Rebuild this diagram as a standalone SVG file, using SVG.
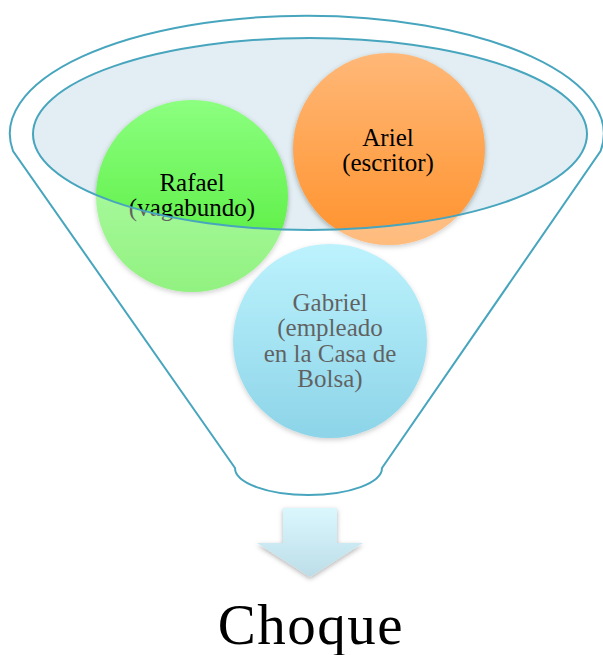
<svg xmlns="http://www.w3.org/2000/svg" width="603" height="655" viewBox="0 0 603 655">
  <defs>
    <linearGradient id="gGreen" x1="0" y1="0" x2="0" y2="1">
      <stop offset="0" stop-color="#8CFF80"/>
      <stop offset="1" stop-color="#4FEA34"/>
    </linearGradient>
    <linearGradient id="gOrange" x1="0" y1="0" x2="0" y2="1">
      <stop offset="0" stop-color="#FFB878"/>
      <stop offset="1" stop-color="#FF922C"/>
    </linearGradient>
    <linearGradient id="gBlue" x1="0" y1="0" x2="0" y2="1">
      <stop offset="0" stop-color="#94EBFC"/>
      <stop offset="1" stop-color="#47BADB"/>
    </linearGradient>
    <linearGradient id="gArrow" x1="0" y1="0" x2="0" y2="1">
      <stop offset="0" stop-color="#DAF7FD"/>
      <stop offset="1" stop-color="#BCDDE8"/>
    </linearGradient>
    <filter id="shadow" x="-20%" y="-20%" width="140%" height="140%">
      <feDropShadow dx="0" dy="2" stdDeviation="2.5" flood-color="#000" flood-opacity="0.3"/>
    </filter>
  </defs>
  <style>
    .rim { fill: none; stroke: #47A5BE; stroke-width: 2; }
    .lbl { font-family: "Liberation Serif", "Times New Roman", serif; font-size: 25px; text-anchor: middle; fill: #000; }
    .big { font-family: "Liberation Serif", "Times New Roman", serif; font-size: 57px; letter-spacing: 1.5px; text-anchor: middle; fill: #000; }
  </style>

  <!-- inner ellipse fill (funnel mouth) -->
  <ellipse id="mouth-fill" cx="310" cy="134" rx="277" ry="96" fill="#E2EEF3"/>

  <g id="rafael">
    <circle cx="192" cy="196" r="96" fill="url(#gGreen)" filter="url(#shadow)"/>
    <text class="lbl" x="192" y="191">Rafael</text>
    <text class="lbl" x="192" y="216">(vagabundo)</text>
  </g>

  <g id="ariel">
    <circle cx="389" cy="149" r="96" fill="url(#gOrange)" filter="url(#shadow)"/>
    <text class="lbl" x="388" y="146">Ariel</text>
    <text class="lbl" x="388" y="171">(escritor)</text>
  </g>

  <g id="gabriel">
    <circle cx="330" cy="341" r="97" fill="url(#gBlue)" filter="url(#shadow)"/>
    <text class="lbl" x="330" y="311">Gabriel</text>
    <text class="lbl" x="330" y="336">(empleado</text>
    <text class="lbl" x="330" y="362">en la Casa de</text>
    <text class="lbl" x="330" y="387">Bolsa)</text>
  </g>

  <!-- funnel body overlay (excluding the mouth) -->
  <path id="funnel-overlay" fill="#FFFFFF" fill-opacity="0.38" fill-rule="evenodd"
        d="M 13,151 A 297 118 0 1 1 600.6,151 L 382,468 A 73.5 27 0 0 1 235,468 Z
           M 33,134 A 277 96 0 1 0 587,134 A 277 96 0 1 0 33,134 Z"/>

  <g id="funnel">
    <path class="rim" d="M 13,151 A 297 118 0 1 1 600.6,151 L 382,468 A 73.5 27 0 0 1 235,468 Z"/>
    <ellipse class="rim" cx="310" cy="134" rx="277" ry="96"/>
  </g>

  <g id="connectors">
    <path d="M 283,508 L 337,508 L 337,543 L 363,543 L 310,577 L 257,543 L 283,543 Z" fill="url(#gArrow)" filter="url(#shadow)"/>
  </g>

  <g id="choque">
    <text class="big" x="311" y="644">Choque</text>
  </g>
</svg>
